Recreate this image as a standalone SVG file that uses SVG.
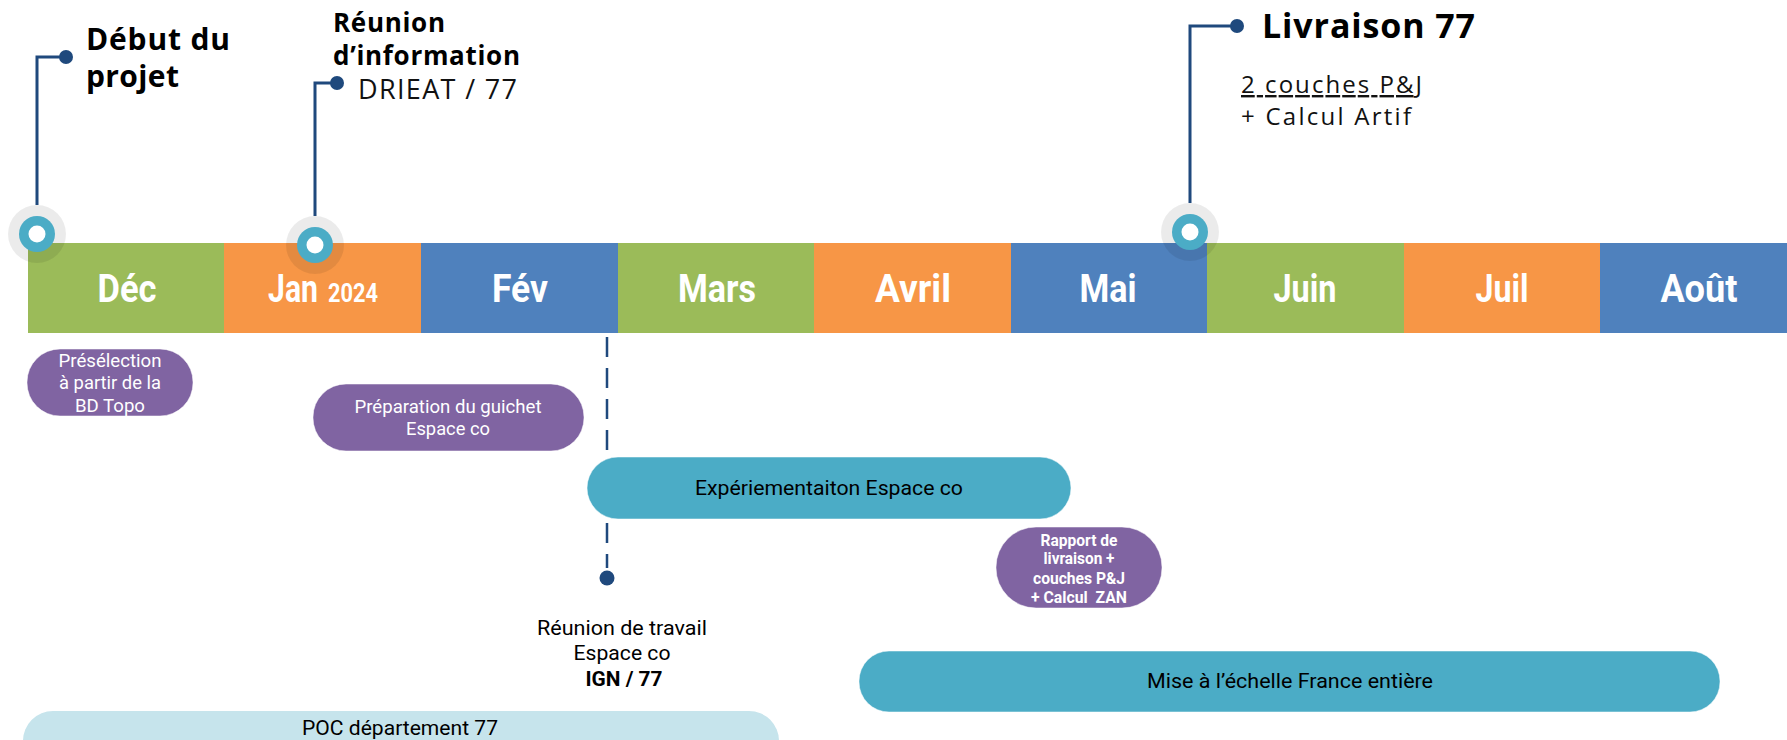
<svg xmlns="http://www.w3.org/2000/svg" width="1787" height="740" viewBox="0 0 1787 740">
<style>
.green{fill:#9BBB59}.orange{fill:#F79646}.blue{fill:#4F81BD}
.month{font-family:Roboto,"Liberation Sans",sans-serif;font-weight:bold;font-size:38px;fill:#fff;text-anchor:middle}
.title{font-family:"Open Sans","Liberation Sans",sans-serif;font-weight:bold;fill:#000}
.sub{font-family:"Open Sans","Liberation Sans",sans-serif;fill:#111}
.purple{fill:#8064A2}
.teal{fill:#4BACC6}
.pale{fill:#C6E4EC}
.wt{font-family:Roboto,"Liberation Sans",sans-serif;fill:#fff;text-anchor:middle}
.bt{font-family:Roboto,"Liberation Sans",sans-serif;fill:#000;text-anchor:middle}
.conn{stroke:#1F497D;stroke-width:3;fill:none}
.dot{fill:#1F497D}
</style>
<rect width="1787" height="740" fill="#fff"/>

<g id="timeline">
<rect class="green" x="28" y="243" width="196" height="90"/>
<rect class="orange" x="224" y="243" width="197" height="90"/>
<rect class="blue" x="421" y="243" width="197" height="90"/>
<rect class="green" x="618" y="243" width="196" height="90"/>
<rect class="orange" x="814" y="243" width="197" height="90"/>
<rect class="blue" x="1011" y="243" width="196" height="90"/>
<rect class="green" x="1207" y="243" width="197" height="90"/>
<rect class="orange" x="1404" y="243" width="196" height="90"/>
<rect class="blue" x="1600" y="243" width="187" height="90"/>
<text class="month" x="127" y="302" textLength="59" lengthAdjust="spacingAndGlyphs">Déc</text>
<text class="month" x="268" y="302" style="text-anchor:start" textLength="50" lengthAdjust="spacingAndGlyphs">Jan</text>
<text class="month" x="328" y="302" style="text-anchor:start;font-size:25px" textLength="50" lengthAdjust="spacingAndGlyphs">2024</text>
<text class="month" x="520" y="302" textLength="56" lengthAdjust="spacingAndGlyphs">Fév</text>
<text class="month" x="717" y="302" textLength="78" lengthAdjust="spacingAndGlyphs">Mars</text>
<text class="month" x="913" y="302" textLength="76" lengthAdjust="spacingAndGlyphs">Avril</text>
<text class="month" x="1108" y="302" textLength="57" lengthAdjust="spacingAndGlyphs">Mai</text>
<text class="month" x="1305" y="302" textLength="63" lengthAdjust="spacingAndGlyphs">Juin</text>
<text class="month" x="1502" y="302" textLength="53" lengthAdjust="spacingAndGlyphs">Juil</text>
<text class="month" x="1699" y="302" textLength="77" lengthAdjust="spacingAndGlyphs">Août</text>
</g>

<g id="connectors">
<polyline class="conn" points="37,205 37,57 66,57"/>
<circle class="dot" cx="66" cy="57" r="7"/>
<polyline class="conn" points="315,216 315,83 337,83"/>
<circle class="dot" cx="337" cy="83" r="7"/>
<polyline class="conn" points="1190,203 1190,26 1237,26"/>
<circle class="dot" cx="1237" cy="26" r="7"/>
<line x1="607" y1="337" x2="607" y2="568" stroke="#1F497D" stroke-width="2.5" stroke-dasharray="20,11"/>
<circle class="dot" cx="607" cy="578" r="7.5"/>
</g>

<g id="marker-debut">
<circle cx="37" cy="234" r="29" fill="#000" fill-opacity="0.08"/>
<circle cx="37" cy="234" r="18" class="teal"/>
<circle cx="37" cy="234" r="8.5" fill="#fff"/>
</g>
<g id="marker-jan">
<circle cx="315" cy="245" r="29" fill="#000" fill-opacity="0.08"/>
<circle cx="315" cy="245" r="18" class="teal"/>
<circle cx="315" cy="245" r="8.5" fill="#fff"/>
</g>
<g id="marker-livraison">
<circle cx="1190" cy="232" r="29" fill="#000" fill-opacity="0.08"/>
<circle cx="1190" cy="232" r="18" class="teal"/>
<circle cx="1190" cy="232" r="8.5" fill="#fff"/>
</g>

<g id="label-debut">
<text class="title" x="86" y="50" font-size="30" textLength="144">Début du</text>
<text class="title" x="86" y="87" font-size="30" textLength="93">projet</text>
</g>
<g id="label-reunion-info">
<text class="title" x="333" y="32" font-size="26" textLength="112">Réunion</text>
<text class="title" x="333" y="65" font-size="26" textLength="187">d’information</text>
<text class="sub" x="358" y="99" font-size="27" textLength="159">DRIEAT / 77</text>
</g>
<g id="label-livraison">
<text class="title" x="1262" y="38" font-size="34" textLength="213">Livraison 77</text>
<text class="sub" x="1241" y="93" font-size="24" textLength="181" text-decoration="underline">2 couches P&amp;J</text>
<text class="sub" x="1241" y="125" font-size="24" textLength="170">+ Calcul Artif</text>
</g>

<g id="preselection">
<rect class="purple" x="27" y="349" width="166" height="67" rx="33" stroke="#fff" stroke-opacity="0.5"/>
<text class="wt" x="110" y="367" font-size="19" textLength="103" lengthAdjust="spacingAndGlyphs">Présélection</text>
<text class="wt" x="110" y="389" font-size="19" textLength="102" lengthAdjust="spacingAndGlyphs">à partir de la</text>
<text class="wt" x="110" y="412" font-size="19" textLength="70" lengthAdjust="spacingAndGlyphs">BD Topo</text>
</g>
<g id="preparation">
<rect class="purple" x="313" y="384" width="271" height="67" rx="33" stroke="#fff" stroke-opacity="0.5"/>
<text class="wt" x="448" y="413" font-size="19" textLength="187" lengthAdjust="spacingAndGlyphs">Préparation du guichet</text>
<text class="wt" x="448" y="435" font-size="19" textLength="84" lengthAdjust="spacingAndGlyphs">Espace co</text>
</g>
<g id="experimentation">
<rect class="teal" x="587" y="457" width="484" height="62" rx="31" stroke="#fff" stroke-opacity="0.5"/>
<text class="bt" x="829" y="495" font-size="20" textLength="268" lengthAdjust="spacingAndGlyphs">Expériementaiton Espace co</text>
</g>
<g id="rapport">
<rect class="purple" x="996" y="527" width="166" height="81" rx="40" stroke="#fff" stroke-opacity="0.5"/>
<text class="wt" x="1079" y="546" font-size="16" font-weight="bold" textLength="77" lengthAdjust="spacingAndGlyphs">Rapport de</text>
<text class="wt" x="1079" y="564" font-size="16" font-weight="bold" textLength="71" lengthAdjust="spacingAndGlyphs">livraison +</text>
<text class="wt" x="1079" y="584" font-size="16" font-weight="bold" textLength="92" lengthAdjust="spacingAndGlyphs">couches P&amp;J</text>
<text class="wt" x="1079" y="603" font-size="16" font-weight="bold" textLength="96" lengthAdjust="spacingAndGlyphs" xml:space="preserve">+ Calcul  ZAN</text>
</g>
<g id="reunion-travail">
<text class="bt" x="622" y="635" font-size="21" textLength="170" lengthAdjust="spacingAndGlyphs">Réunion de travail</text>
<text class="bt" x="622" y="660" font-size="21" textLength="97" lengthAdjust="spacingAndGlyphs">Espace co</text>
<text class="bt" x="624" y="686" font-size="21" font-weight="bold" textLength="77" lengthAdjust="spacingAndGlyphs">IGN / 77</text>
</g>
<g id="mise-echelle">
<rect class="teal" x="859" y="651" width="861" height="61" rx="30" stroke="#fff" stroke-opacity="0.5"/>
<text class="bt" x="1290" y="688" font-size="20" textLength="286" lengthAdjust="spacingAndGlyphs">Mise à l’échelle France entière</text>
</g>
<g id="poc">
<rect class="pale" x="23" y="711" width="756" height="60" rx="30"/>
<text class="bt" x="400" y="735" font-size="20" textLength="196" lengthAdjust="spacingAndGlyphs">POC département 77</text>
</g>
</svg>
